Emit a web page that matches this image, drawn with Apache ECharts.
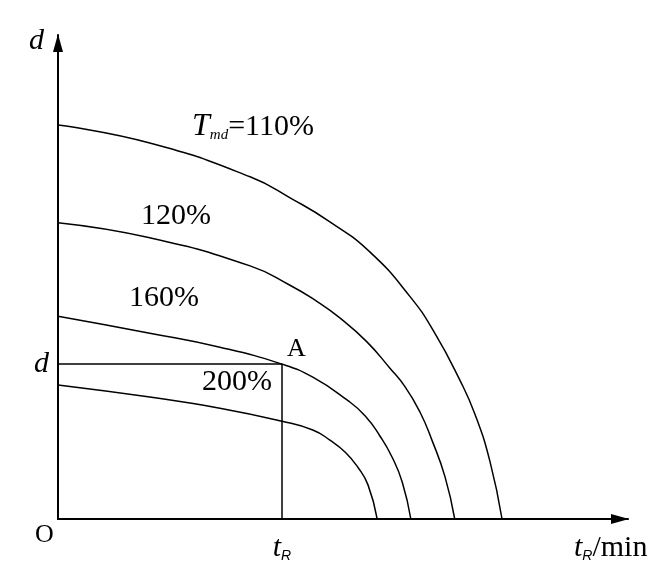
<!DOCTYPE html>
<html>
<head>
<meta charset="utf-8">
<style>
  html, body { margin: 0; padding: 0; background: #fff; }
  #chart { width: 655px; height: 586px; }
</style>
<script src="https://cdn.jsdelivr.net/npm/echarts@6/dist/echarts.min.js"></script>
</head>
<body>
<div id="chart"></div>
<script>
// curves d vs t_R for each T_md level (arbitrary units, 0-100)
var curve110 = [[0, 81.4], [16.1, 77.7], [33.7, 70.7], [41.1, 66.1], [47.7, 61.4], [54.7, 55.2],
  [61.8, 45.9], [66.1, 38.4], [70.5, 28.7], [73.2, 21.5], [75.8, 11.8], [77.9, 0]]
var curve120 = [[0, 61.2], [16.1, 58.1], [33.7, 52.3], [40.7, 48.3], [45.1, 45.2], [49.5, 41.5],
  [54.2, 36.6], [58.2, 31.2], [60.9, 27.3], [63.5, 22.1], [65.6, 16.3], [67.9, 8.7], [69.6, 0]]
var curve160 = [[0, 41.9], [16.1, 38.4], [28.4, 35.5], [39.3, 32.0], [44.7, 29.3], [50.7, 24.6],
  [53.9, 21.3], [56.5, 17.1], [58.6, 12.8], [60.4, 7.6], [61.9, 0]]
var curve200 = [[0, 27.7], [16.1, 25.2], [28.4, 22.9], [39.3, 20.2], [44.7, 18.4], [47.7, 16.3],
  [50.4, 13.8], [52.6, 10.7], [54.4, 7.0], [56.0, 0]]

// point A
var tR = 39.3
var dLevel = 32.0

var serif = '"Liberation Serif", "DejaVu Serif", serif'

var chart = echarts.init(document.getElementById('chart'))

function curve (data) {
  return {
    type: 'line',
    data: data,
    smooth: 0.5,
    showSymbol: false,
    silent: true,
    lineStyle: { color: '#000', width: 1.5 }
  }
}

function label (x, y, text, size, italic) {
  return {
    type: 'text',
    x: x,
    y: y,
    silent: true,
    style: {
      text: text,
      fill: '#000',
      font: (italic ? 'italic ' : '') + size + 'px ' + serif
    }
  }
}

var subR = { fontFamily: 'Liberation Sans', fontStyle: 'italic', fontSize: 14, color: '#000', verticalAlign: 'bottom', padding: [12, 0, 0, 0] }

chart.setOption({
  animation: false,
  backgroundColor: '#fff',
  grid: { left: 58, right: 27, top: 35, bottom: 67 },
  xAxis: {
    type: 'value',
    min: 0,
    max: 100,
    splitLine: { show: false },
    axisTick: { show: false },
    axisLine: {
      lineStyle: { color: '#000', width: 2 },
      symbol: ['none', 'triangle'],
      symbolSize: [10, 18],
      symbolOffset: [0, -8]
    },
    axisLabel: {
      customValues: [tR],
      margin: 14,
      formatter: function () { return '{t|t}{r|R}' },
      rich: {
        t: { fontFamily: serif, fontStyle: 'italic', fontSize: 30, color: '#000' },
        r: subR
      }
    }
  },
  yAxis: {
    type: 'value',
    min: 0,
    max: 100,
    splitLine: { show: false },
    axisTick: { show: false },
    axisLine: {
      lineStyle: { color: '#000', width: 2 },
      symbol: ['none', 'triangle'],
      symbolSize: [10, 18],
      symbolOffset: [0, -8]
    },
    axisLabel: {
      customValues: [dLevel],
      margin: 9,
      formatter: function () { return 'd' },
      fontFamily: serif,
      fontStyle: 'italic',
      fontSize: 30,
      color: '#000'
    }
  },
  graphic: [
    label(29, 26, 'd', 30, true),
    label(35, 522, 'O', 26),
    {
      type: 'text',
      x: 574,
      y: 533,
      silent: true,
      style: {
        text: '{t|t}{r|R}{m|/min}',
        rich: {
          t: { fontFamily: serif, fontStyle: 'italic', fontSize: 30, color: '#000' },
          r: subR,
          m: { fontFamily: serif, fontSize: 30, color: '#000' }
        }
      }
    },
    {
      type: 'text',
      x: 192,
      y: 111,
      silent: true,
      style: {
        text: '{T|T}{s|md}{n|=110%}',
        rich: {
          T: { fontFamily: serif, fontStyle: 'italic', fontSize: 32, color: '#000' },
          s: { fontFamily: serif, fontStyle: 'italic', fontSize: 15, color: '#000', verticalAlign: 'bottom', padding: [14, 0, 0, 0] },
          n: { fontFamily: serif, fontSize: 30, color: '#000' }
        }
      }
    },
    label(141, 201, '120%', 30),
    label(129, 283, '160%', 30),
    label(202, 367, '200%', 30),
    label(287, 336, 'A', 26)
  ],
  series: [
    curve(curve110),
    curve(curve120),
    curve(curve160),
    curve(curve200),
    {
      type: 'line',
      data: [[0, dLevel], [tR, dLevel], [tR, 0]],
      showSymbol: false,
      silent: true,
      lineStyle: { color: '#000', width: 1.5 }
    }
  ]
})
</script>
</body>
</html>
